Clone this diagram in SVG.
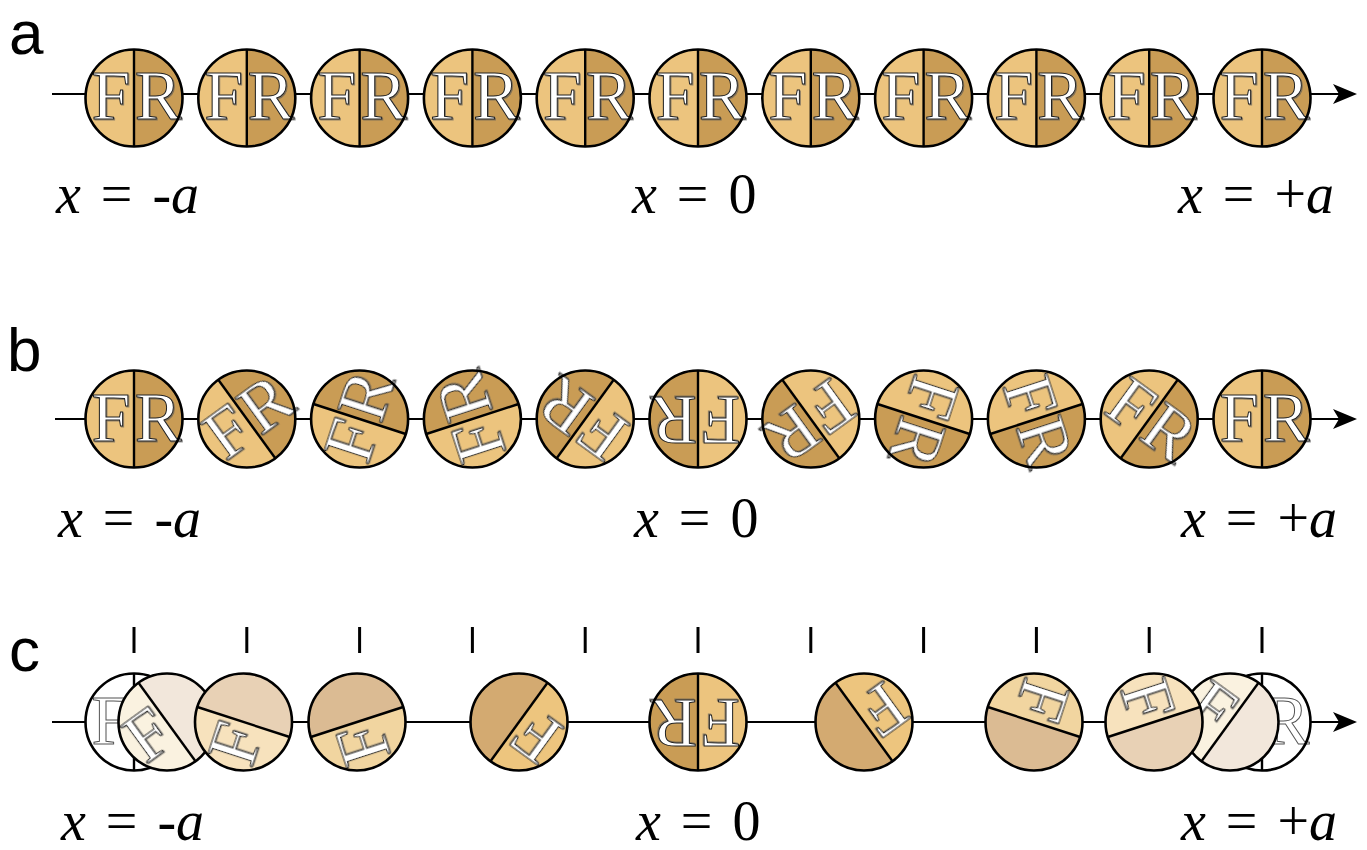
<svg xmlns="http://www.w3.org/2000/svg" width="1367" height="850" viewBox="0 0 1367 850">
<style>
.rim{fill:none;stroke:#000;stroke-width:2.6}
.div{stroke:#000;stroke-width:2.4}
.L{font-family:"Liberation Serif","Times New Roman",serif;font-size:70px;fill:#fff;stroke:#222;stroke-width:1;text-anchor:middle;filter:url(#sh)}
.lab{font-family:"Liberation Serif","Times New Roman",serif;font-size:56px;fill:#000;word-spacing:6px}
.it{font-style:italic}
.pl{font-family:"Liberation Sans",Arial,sans-serif;font-size:62px;fill:#000}
.axis{stroke:#000;stroke-width:2.2;fill:none}
.tick{stroke:#000;stroke-width:3}
.lt{fill:#ECC47E}.dk{fill:#C99C55}
</style>
<defs>
<filter id="sh" x="-20%" y="-20%" width="150%" height="150%">
<feDropShadow dx="1" dy="1" stdDeviation="0.5" flood-color="#555" flood-opacity="0.6"/>
</filter>
<marker id="arr" markerWidth="26" markerHeight="22" refX="12" refY="11" orient="auto" markerUnits="userSpaceOnUse">
<path d="M0,1 L24,11 L0,21 L6,11 Z" fill="#000"/>
</marker>
<path id="lh" d="M0,-48.5 A48.5,48.5 0 0 0 0,48.5 Z"/>
<path id="rh" d="M0,-48.5 A48.5,48.5 0 0 1 0,48.5 Z"/>
</defs>

<g id="connectors">
<line class="axis" x1="52" y1="94" x2="1345" y2="94" marker-end="url(#arr)"/>
<line class="axis" x1="55" y1="419" x2="1345" y2="419" marker-end="url(#arr)"/>
<line class="axis" x1="52" y1="722" x2="1345" y2="722" marker-end="url(#arr)"/>
</g>

<g id="panel-labels">
<text class="pl" x="9" y="54">a</text>
<text class="pl" x="7" y="371">b</text>
<text class="pl" x="9" y="671">c</text>
</g>

<!-- Row a -->
<g id="row-a">
<g id="a0" transform="translate(134,98)"><use href="#lh" class="lt"/><use href="#rh" class="dk"/><line class="div" x1="0" y1="-48.5" x2="0" y2="48.5"/><text class="L" x="-23" y="21">F</text><text class="L" x="24" y="21">R</text><circle class="rim" r="48.5"/></g>
<g id="a1" transform="translate(246.8,98)"><use href="#lh" class="lt"/><use href="#rh" class="dk"/><line class="div" x1="0" y1="-48.5" x2="0" y2="48.5"/><text class="L" x="-23" y="21">F</text><text class="L" x="24" y="21">R</text><circle class="rim" r="48.5"/></g>
<g id="a2" transform="translate(359.6,98)"><use href="#lh" class="lt"/><use href="#rh" class="dk"/><line class="div" x1="0" y1="-48.5" x2="0" y2="48.5"/><text class="L" x="-23" y="21">F</text><text class="L" x="24" y="21">R</text><circle class="rim" r="48.5"/></g>
<g id="a3" transform="translate(472.4,98)"><use href="#lh" class="lt"/><use href="#rh" class="dk"/><line class="div" x1="0" y1="-48.5" x2="0" y2="48.5"/><text class="L" x="-23" y="21">F</text><text class="L" x="24" y="21">R</text><circle class="rim" r="48.5"/></g>
<g id="a4" transform="translate(585.2,98)"><use href="#lh" class="lt"/><use href="#rh" class="dk"/><line class="div" x1="0" y1="-48.5" x2="0" y2="48.5"/><text class="L" x="-23" y="21">F</text><text class="L" x="24" y="21">R</text><circle class="rim" r="48.5"/></g>
<g id="a5" transform="translate(698,98)"><use href="#lh" class="lt"/><use href="#rh" class="dk"/><line class="div" x1="0" y1="-48.5" x2="0" y2="48.5"/><text class="L" x="-23" y="21">F</text><text class="L" x="24" y="21">R</text><circle class="rim" r="48.5"/></g>
<g id="a6" transform="translate(810.8,98)"><use href="#lh" class="lt"/><use href="#rh" class="dk"/><line class="div" x1="0" y1="-48.5" x2="0" y2="48.5"/><text class="L" x="-23" y="21">F</text><text class="L" x="24" y="21">R</text><circle class="rim" r="48.5"/></g>
<g id="a7" transform="translate(923.6,98)"><use href="#lh" class="lt"/><use href="#rh" class="dk"/><line class="div" x1="0" y1="-48.5" x2="0" y2="48.5"/><text class="L" x="-23" y="21">F</text><text class="L" x="24" y="21">R</text><circle class="rim" r="48.5"/></g>
<g id="a8" transform="translate(1036.4,98)"><use href="#lh" class="lt"/><use href="#rh" class="dk"/><line class="div" x1="0" y1="-48.5" x2="0" y2="48.5"/><text class="L" x="-23" y="21">F</text><text class="L" x="24" y="21">R</text><circle class="rim" r="48.5"/></g>
<g id="a9" transform="translate(1149.2,98)"><use href="#lh" class="lt"/><use href="#rh" class="dk"/><line class="div" x1="0" y1="-48.5" x2="0" y2="48.5"/><text class="L" x="-23" y="21">F</text><text class="L" x="24" y="21">R</text><circle class="rim" r="48.5"/></g>
<g id="a10" transform="translate(1262,98)"><use href="#lh" class="lt"/><use href="#rh" class="dk"/><line class="div" x1="0" y1="-48.5" x2="0" y2="48.5"/><text class="L" x="-23" y="21">F</text><text class="L" x="24" y="21">R</text><circle class="rim" r="48.5"/></g>
</g>

<!-- Row b -->
<g id="row-b">
<g id="b0" transform="translate(134,419)"><g><use href="#lh" class="lt"/><use href="#rh" class="dk"/><line class="div" x1="0" y1="-48.5" x2="0" y2="48.5"/><text class="L" x="-23" y="22">F</text><text class="L" x="24" y="22">R</text></g><circle class="rim" r="48.5"/></g>
<g id="b1" transform="translate(246.8,419)"><g transform="rotate(-36)"><use href="#lh" class="lt"/><use href="#rh" class="dk"/><line class="div" x1="0" y1="-48.5" x2="0" y2="48.5"/><text class="L" x="-23" y="22">F</text><text class="L" x="24" y="22">R</text></g><circle class="rim" r="48.5"/></g>
<g id="b2" transform="translate(359.6,419)"><g transform="rotate(-72)"><use href="#lh" class="lt"/><use href="#rh" class="dk"/><line class="div" x1="0" y1="-48.5" x2="0" y2="48.5"/><text class="L" x="-23" y="22">F</text><text class="L" x="24" y="22">R</text></g><circle class="rim" r="48.5"/></g>
<g id="b3" transform="translate(472.4,419)"><g transform="rotate(-108)"><use href="#lh" class="lt"/><use href="#rh" class="dk"/><line class="div" x1="0" y1="-48.5" x2="0" y2="48.5"/><text class="L" x="-23" y="22">F</text><text class="L" x="24" y="22">R</text></g><circle class="rim" r="48.5"/></g>
<g id="b4" transform="translate(585.2,419)"><g transform="rotate(-144)"><use href="#lh" class="lt"/><use href="#rh" class="dk"/><line class="div" x1="0" y1="-48.5" x2="0" y2="48.5"/><text class="L" x="-23" y="22">F</text><text class="L" x="24" y="22">R</text></g><circle class="rim" r="48.5"/></g>
<g id="b5" transform="translate(698,419)"><g transform="rotate(-180)"><use href="#lh" class="lt"/><use href="#rh" class="dk"/><line class="div" x1="0" y1="-48.5" x2="0" y2="48.5"/><text class="L" x="-23" y="22">F</text><text class="L" x="24" y="22">R</text></g><circle class="rim" r="48.5"/></g>
<g id="b6" transform="translate(810.8,419)"><g transform="rotate(-216)"><use href="#lh" class="lt"/><use href="#rh" class="dk"/><line class="div" x1="0" y1="-48.5" x2="0" y2="48.5"/><text class="L" x="-23" y="22">F</text><text class="L" x="24" y="22">R</text></g><circle class="rim" r="48.5"/></g>
<g id="b7" transform="translate(923.6,419)"><g transform="rotate(-252)"><use href="#lh" class="lt"/><use href="#rh" class="dk"/><line class="div" x1="0" y1="-48.5" x2="0" y2="48.5"/><text class="L" x="-23" y="22">F</text><text class="L" x="24" y="22">R</text></g><circle class="rim" r="48.5"/></g>
<g id="b8" transform="translate(1036.4,419)"><g transform="rotate(-288)"><use href="#lh" class="lt"/><use href="#rh" class="dk"/><line class="div" x1="0" y1="-48.5" x2="0" y2="48.5"/><text class="L" x="-23" y="22">F</text><text class="L" x="24" y="22">R</text></g><circle class="rim" r="48.5"/></g>
<g id="b9" transform="translate(1149.2,419)"><g transform="rotate(-324)"><use href="#lh" class="lt"/><use href="#rh" class="dk"/><line class="div" x1="0" y1="-48.5" x2="0" y2="48.5"/><text class="L" x="-23" y="22">F</text><text class="L" x="24" y="22">R</text></g><circle class="rim" r="48.5"/></g>
<g id="b10" transform="translate(1262,419)"><g><use href="#lh" class="lt"/><use href="#rh" class="dk"/><line class="div" x1="0" y1="-48.5" x2="0" y2="48.5"/><text class="L" x="-23" y="22">F</text><text class="L" x="24" y="22">R</text></g><circle class="rim" r="48.5"/></g>
</g>

<!-- Row c -->
<g id="ticks">
<line class="tick" x1="134" y1="627" x2="134" y2="653"/>
<line class="tick" x1="246.8" y1="627" x2="246.8" y2="653"/>
<line class="tick" x1="359.6" y1="627" x2="359.6" y2="653"/>
<line class="tick" x1="472.4" y1="627" x2="472.4" y2="653"/>
<line class="tick" x1="585.2" y1="627" x2="585.2" y2="653"/>
<line class="tick" x1="698" y1="627" x2="698" y2="653"/>
<line class="tick" x1="810.8" y1="627" x2="810.8" y2="653"/>
<line class="tick" x1="923.6" y1="627" x2="923.6" y2="653"/>
<line class="tick" x1="1036.4" y1="627" x2="1036.4" y2="653"/>
<line class="tick" x1="1149.2" y1="627" x2="1149.2" y2="653"/>
<line class="tick" x1="1262" y1="627" x2="1262" y2="653"/>
</g>
<g id="row-c">
<g id="c0" transform="translate(134,722)"><circle r="48.5" fill="#fff"/><line class="div" x1="0" y1="-48.5" x2="0" y2="48.5"/><text class="L" x="-23" y="22" style="stroke:#555;filter:none">F</text><circle class="rim" r="48.5"/></g>
<g id="c1" transform="translate(167,722)"><g transform="rotate(-36)"><use href="#lh" fill="#FAF2E0"/><use href="#rh" fill="#F2E7DB"/><line class="div" x1="0" y1="-48.5" x2="0" y2="48.5"/><text class="L" x="-23" y="22">F</text></g><circle class="rim" r="48.5"/></g>
<g id="c2" transform="translate(243.5,722)"><g transform="rotate(-72)"><use href="#lh" fill="#F7E2BD"/><use href="#rh" fill="#E8D1B5"/><line class="div" x1="0" y1="-48.5" x2="0" y2="48.5"/><text class="L" x="-23" y="22">F</text></g><circle class="rim" r="48.5"/></g>
<g id="c3" transform="translate(357,722)"><g transform="rotate(-108)"><use href="#lh" fill="#F1D5A0"/><use href="#rh" fill="#DBBB93"/><line class="div" x1="0" y1="-48.5" x2="0" y2="48.5"/><text class="L" x="-23" y="22">F</text></g><circle class="rim" r="48.5"/></g>
<g id="c4" transform="translate(519,722)"><g transform="rotate(-144)"><use href="#lh" fill="#EDC57E"/><use href="#rh" fill="#D3AA71"/><line class="div" x1="0" y1="-48.5" x2="0" y2="48.5"/><text class="L" x="-23" y="22">F</text></g><circle class="rim" r="48.5"/></g>
<g id="c5" transform="translate(698,722)"><g transform="rotate(-180)"><use href="#lh" class="lt"/><use href="#rh" class="dk"/><line class="div" x1="0" y1="-48.5" x2="0" y2="48.5"/><text class="L" x="-23" y="22">F</text><text class="L" x="24" y="22">R</text></g><circle class="rim" r="48.5"/></g>
<g id="c6" transform="translate(864,722)"><g transform="rotate(-216)"><use href="#lh" fill="#EDC57E"/><use href="#rh" fill="#D3AA71"/><line class="div" x1="0" y1="-48.5" x2="0" y2="48.5"/><text class="L" x="-23" y="22">F</text></g><circle class="rim" r="48.5"/></g>
<g id="c7" transform="translate(1034,722)"><g transform="rotate(-252)"><use href="#lh" fill="#F1D5A0"/><use href="#rh" fill="#DBBB93"/><line class="div" x1="0" y1="-48.5" x2="0" y2="48.5"/><text class="L" x="-23" y="22">F</text></g><circle class="rim" r="48.5"/></g>
<g id="c10" transform="translate(1262,722)"><circle r="48.5" fill="#fff"/><line class="div" x1="0" y1="-48.5" x2="0" y2="48.5"/><text class="L" x="24" y="22" style="stroke:#555;filter:none">R</text><circle class="rim" r="48.5"/></g>
<g id="c9" transform="translate(1230,722)"><g transform="rotate(-324)"><use href="#lh" fill="#FAF2E0"/><use href="#rh" fill="#F2E7DB"/><line class="div" x1="0" y1="-48.5" x2="0" y2="48.5"/><text class="L" x="-23" y="22">F</text></g><circle class="rim" r="48.5"/></g>
<g id="c8" transform="translate(1154,722)"><g transform="rotate(-288)"><use href="#lh" fill="#F7E2BD"/><use href="#rh" fill="#E8D1B5"/><line class="div" x1="0" y1="-48.5" x2="0" y2="48.5"/><text class="L" x="-23" y="22">F</text></g><circle class="rim" r="48.5"/></g>
</g>

<g id="position-labels">
<text class="lab" x="56" y="213"><tspan class="it">x</tspan> = <tspan class="it">-a</tspan></text>
<text class="lab" x="632" y="213"><tspan class="it">x</tspan> = 0</text>
<text class="lab" x="1178" y="213"><tspan class="it">x</tspan> = +<tspan class="it">a</tspan></text>
<text class="lab" x="58" y="537"><tspan class="it">x</tspan> = <tspan class="it">-a</tspan></text>
<text class="lab" x="634" y="537"><tspan class="it">x</tspan> = 0</text>
<text class="lab" x="1181" y="537"><tspan class="it">x</tspan> = +<tspan class="it">a</tspan></text>
<text class="lab" x="61" y="840"><tspan class="it">x</tspan> = <tspan class="it">-a</tspan></text>
<text class="lab" x="636" y="840"><tspan class="it">x</tspan> = 0</text>
<text class="lab" x="1181" y="840"><tspan class="it">x</tspan> = +<tspan class="it">a</tspan></text>
</g>
</svg>
